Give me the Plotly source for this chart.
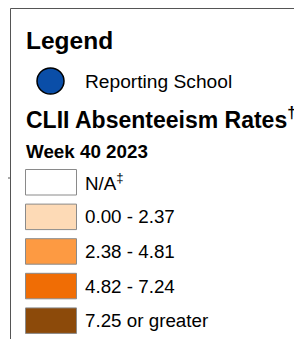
import plotly.graph_objects as go

# ---- data ----
title = "Legend"
point_label = "Reporting School"
section_title = "CLII Absenteeism Rates<sup>†</sup>"
week_label = "Week 40 2023"
class_labels = ["N/A<sup>‡</sup>", "0.00 - 2.37", "2.38 - 4.81", "4.82 - 7.24", "7.25 or greater"]
class_colors = ["#FFFFFF", "#FDDAB6", "#FD9A42", "#F06D05", "#8C4A0A"]
point_color = "#0A4EA8"

W, H = 302, 339
OFF = 8  # page body margin; axis ranges chosen so coordinates equal page pixels
FONT = "Liberation Sans, Arial, sans-serif"

fig = go.Figure()
shapes = []
annotations = []

shapes.append(dict(type="rect", x0=10.5, y0=8.5, x1=W + 20, y1=H + 20,
                   line=dict(color="#555555", width=1), fillcolor="rgba(0,0,0,0)"))
shapes.append(dict(type="line", x0=6, y0=178, x1=10, y1=178,
                   line=dict(color="#555555", width=1)))

def text(x, y, s, size, bold=False):
    annotations.append(dict(x=x, y=y, xref="x", yref="y", text=(f"<b>{s}</b>" if bold else s),
                            showarrow=False, xanchor="left", yanchor="middle",
                            font=dict(family=FONT, size=size, color="#000000")))

text(24, 40, title, 24.5, True)

shapes.append(dict(type="circle", x0=37, y0=68, x1=64, y1=94,
                   line=dict(color="#000000", width=1.5), fillcolor=point_color))
text(83, 81, point_label, 19.2)

text(24, 117.5, section_title, 23, True)
text(24, 151, week_label, 18.8, True)

row0, pitch, sw_h = 169.5, 34.6, 25.5
for i, (lab, col) in enumerate(zip(class_labels, class_colors)):
    y0 = row0 + i * pitch
    shapes.append(dict(type="rect", x0=25.5, y0=y0, x1=76.5, y1=y0 + sw_h,
                       line=dict(color="#8A8A8A", width=1), fillcolor=col))
    text(83, y0 + sw_h / 2, lab, 18.8)

fig.update_layout(
    width=W, height=H, margin=dict(l=0, r=0, t=0, b=0),
    paper_bgcolor="#FFFFFF", plot_bgcolor="#FFFFFF",
    xaxis=dict(range=[OFF, W + OFF], visible=False, fixedrange=True),
    yaxis=dict(range=[H + OFF, OFF], visible=False, fixedrange=True),
    shapes=shapes, annotations=annotations, showlegend=False,
)
fig.write_html("out.html", config={"displayModeBar": False})
